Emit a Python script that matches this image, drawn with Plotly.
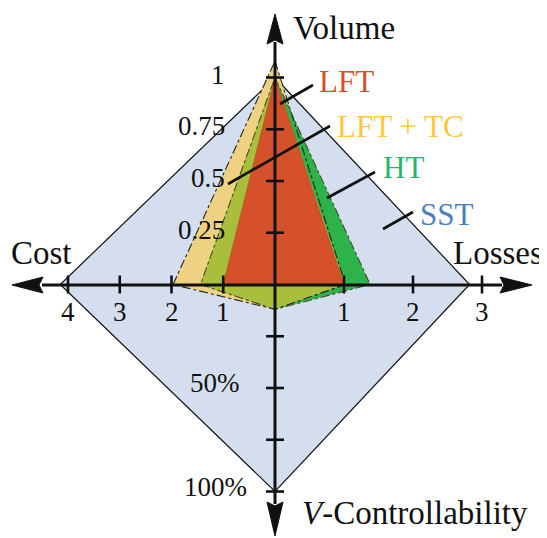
import plotly.graph_objects as go

# ---------------- data ----------------
axes_names = ["Volume", "Losses", "V-Controllability", "Cost"]
sst = [1.0, 2.82, 100, 4.15]
lft_tc = [1.08, 1.02, 12, 1.97]
ht = [1.0, 1.38, 12, 1.44]
lft = [1.0, 1.0, 0, 1.0]

vol_ticks = [0.25, 0.5, 0.75, 1]
vol_tick_labels = ["0.25", "0.5", "0.75", "1"]
cost_ticks = [1, 2, 3, 4]
cost_tick_labels = ["1", "2", "3", "4"]
loss_ticks = [1, 2, 3]
loss_tick_labels = ["1", "2", "3"]
vc_ticks = [25, 50, 75, 100]
vc_tick_labels = ["", "50%", "", "100%"]

# ---------------- scales ----------------
AX_LEN = 207.0
VOL_S = AX_LEN / 1.0
LOSS_S = AX_LEN / 3.0
VC_S = AX_LEN / 100.0
COST_S = AX_LEN / 4.0

CX, CY = 275.0, 284.5   # centre in page pixels
W, H = 547, 538
OFF = 8                 # page body margin


def P(xp, yp):
    return xp - CX, CY - yp


def poly(vals):
    vol, loss, vc, cost = vals
    xs = [0, loss * LOSS_S, 0, -cost * COST_S, 0]
    ys = [vol * VOL_S, 0, -vc * VC_S, 0, vol * VOL_S]
    return xs, ys


overlap = [min(a, b) for a, b in zip(lft_tc, ht)]

SST_FILL = "#D5DEEF"
YEL_FILL = "#EED282"
GRN_FILL = "#2EB34B"
OLV_FILL = "#A9BE3A"
RED_FILL = "#D5512A"

fig = go.Figure()


def add_fill(vals, color, line=None):
    xs, ys = poly(vals)
    fig.add_trace(go.Scatter(
        x=xs, y=ys, mode="lines", fill="toself", fillcolor=color,
        line=line or dict(width=0, color=color), hoverinfo="skip", showlegend=False))


def add_outline(vals, dash="dashdot", color="#222", width=1.1):
    xs, ys = poly(vals)
    fig.add_trace(go.Scatter(
        x=xs, y=ys, mode="lines", line=dict(color=color, width=width, dash=dash),
        hoverinfo="skip", showlegend=False))


add_fill(sst, SST_FILL, dict(color="#111", width=1.2))
add_fill(lft_tc, YEL_FILL)
add_fill(ht, GRN_FILL)
add_fill(overlap, OLV_FILL)
add_outline(lft_tc)
add_outline(ht, color="#4a4a2a")
add_fill(lft, RED_FILL, dict(color="#b8421f", width=0.6))

# ---------------- tick marks ----------------
tx, ty = [], []
T = 9
for v in vol_ticks:
    y = v * VOL_S
    tx += [-T, T, None]; ty += [y, y, None]
for v in vc_ticks:
    y = -v * VC_S
    tx += [-T, T, None]; ty += [y, y, None]
for v in cost_ticks:
    x = -v * COST_S
    tx += [x, x, None]; ty += [-T, T, None]
for v in loss_ticks:
    x = v * LOSS_S
    tx += [x, x, None]; ty += [-T, T, None]
fig.add_trace(go.Scatter(x=tx, y=ty, mode="lines", line=dict(color="#111", width=2.6),
                         hoverinfo="skip", showlegend=False))

# ---------------- axes lines & arrows ----------------
shapes = []
x0, y0 = P(275, 42); x1, y1 = P(275, 504)
shapes.append(dict(type="line", x0=x0, y0=y0, x1=x1, y1=y1, line=dict(color="#111", width=3)))
x0, y0 = P(42, 285); x1, y1 = P(502, 285)
shapes.append(dict(type="line", x0=x0, y0=y0, x1=x1, y1=y1, line=dict(color="#111", width=3)))


def tri(pts):
    s = "M " + " L ".join(f"{P(*p)[0]},{P(*p)[1]}" for p in pts) + " Z"
    return dict(type="path", path=s, fillcolor="#111", line=dict(color="#111", width=1))


shapes.append(tri([(275, 14), (267, 44), (275, 40), (283, 44)]))
shapes.append(tri([(275, 536), (267, 502), (275, 506), (283, 502)]))
shapes.append(tri([(12, 285), (43, 277), (39, 285), (43, 293)]))
shapes.append(tri([(532, 285), (500, 277), (504, 285), (500, 293)]))

# leader lines
leaders = [
    ((280, 104), (313, 85)),
    ((228, 184), (330, 126)),
    ((327, 198), (375, 172)),
    ((383, 229), (413, 212)),
]
for a, b in leaders:
    xa, ya = P(*a); xb, yb = P(*b)
    shapes.append(dict(type="line", x0=xa, y0=ya, x1=xb, y1=yb, line=dict(color="#111", width=2.6)))

# ---------------- text ----------------
FONT = "Liberation Serif"
ann = []


def text(t, xp, yp, size, color="#111", xanchor="left", yanchor="middle"):
    x, y = P(xp, yp)
    ann.append(dict(x=x, y=y, text=t, showarrow=False, xanchor=xanchor, yanchor=yanchor,
                    font=dict(family=FONT, size=size, color=color)))


text("Volume", 291, 28, 33)
text("Cost", 9, 253, 33)
text("Losses", 451, 253, 33)
text("<i>V</i>-Controllability", 300, 513, 33)

text("LFT", 317, 81, 31, "#D4512A")
text("LFT + TC", 335, 126, 31, "#FFC83A")
text("HT", 381, 167, 31, "#2BB56C")
text("SST", 418, 214, 31, "#4A7EC1")

for v, lab in zip(vol_ticks, vol_tick_labels):
    ann.append(dict(x=P(227, 0)[0], y=v * VOL_S + 3, text=lab, showarrow=False,
                    xanchor="right", yanchor="middle",
                    font=dict(family=FONT, size=27, color="#111")))
for v, lab in zip(cost_ticks, cost_tick_labels):
    ann.append(dict(x=-v * COST_S, y=-27, text=lab, showarrow=False,
                    xanchor="center", yanchor="middle",
                    font=dict(family=FONT, size=27, color="#111")))
for v, lab in zip(loss_ticks, loss_tick_labels):
    ann.append(dict(x=v * LOSS_S, y=-27, text=lab, showarrow=False,
                    xanchor="center", yanchor="middle",
                    font=dict(family=FONT, size=27, color="#111")))
for v, lab in zip(vc_ticks, vc_tick_labels):
    if lab:
        ann.append(dict(x=P(215, 0)[0], y=-v * VC_S + 5, text=lab, showarrow=False,
                        xanchor="center", yanchor="middle",
                        font=dict(family=FONT, size=27, color="#111")))

# figure starts OFF px into the page, so shift the visible window accordingly
fx0 = -(CX - OFF)
fy1 = CY - OFF
fig.update_layout(
    width=W, height=H, margin=dict(l=0, r=0, t=0, b=0),
    paper_bgcolor="white", plot_bgcolor="white",
    xaxis=dict(range=[fx0, fx0 + W], visible=False, fixedrange=True),
    yaxis=dict(range=[fy1 - H, fy1], visible=False, fixedrange=True),
    shapes=shapes, annotations=ann, showlegend=False,
)

fig.write_html("out.html")
